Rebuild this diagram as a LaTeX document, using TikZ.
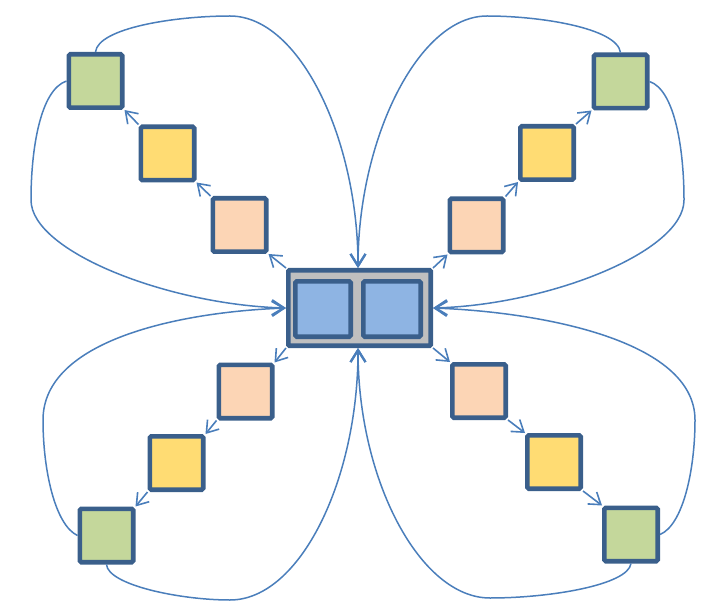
\documentclass[tikz,border=0pt]{standalone}
\usetikzlibrary{arrows.meta}

\definecolor{edgeblue}{HTML}{3A5F8B}
\definecolor{linkblue}{HTML}{4A7EBB}
\definecolor{leaf}{HTML}{C4D79B}
\definecolor{sun}{HTML}{FFDC73}
\definecolor{peach}{HTML}{FCD5B5}
\definecolor{sky}{HTML}{8EB4E3}
\definecolor{frame}{HTML}{BFBFBF}

\tikzset{
  tile/.style={draw=edgeblue, line width=4.6pt, rounded corners=1.5pt,
               minimum size=53.4pt, inner sep=0pt},
  greentile/.style={tile, fill=leaf},
  yellowtile/.style={tile, fill=sun},
  peachtile/.style={tile, fill=peach},
  hub/.style={draw=edgeblue, line width=4.6pt, fill=frame, rounded corners=1pt,
              minimum width=142.4pt, minimum height=75.4pt, inner sep=0pt},
  hubcell/.style={draw=edgeblue, line width=4.6pt, fill=sky, rounded corners=1.5pt,
                  minimum height=55.4pt, inner sep=0pt},
  link/.style={draw=linkblue, line width=1.6pt,
               -{Straight Barb[length=11pt, width=15pt, line width=1.6pt]}},
  loop/.style={draw=linkblue, line width=1.5pt},
  looparrow/.style={loop, -{Straight Barb[length=12pt, width=15pt, line width=2.2pt]}}
}

\begin{document}
\begin{tikzpicture}[x=1pt, y=-1pt]
  \useasboundingbox (0,0) rectangle (727,609);

  % central block with its two cells
  \node[hub] (hub) at (359.5,308) {};
  \node[hubcell, minimum width=55.4pt] (cellL) at (323,309) {};
  \node[hubcell, minimum width=57.4pt] (cellR) at (392,309) {};

  % upper-left chain
  \node[peachtile]  (p1) at (239.5,225) {};
  \node[yellowtile] (y1) at (167.5,153.5) {};
  \node[greentile]  (g1) at (95.5,81) {};

  % upper-right chain
  \node[peachtile]  (p2) at (476.5,225.5) {};
  \node[yellowtile] (y2) at (547,153) {};
  \node[greentile]  (g2) at (620.5,81.5) {};

  % lower-left chain
  \node[peachtile]  (p3) at (245.5,391.5) {};
  \node[yellowtile] (y3) at (176.5,463) {};
  \node[greentile]  (g3) at (106.5,535.5) {};

  % lower-right chain
  \node[peachtile]  (p4) at (479,391) {};
  \node[yellowtile] (y4) at (554,462) {};
  \node[greentile]  (g4) at (631,534.5) {};

  % outward steps along each diagonal
  \draw[link] (hub.north west) -- (p1.south east);
  \draw[link] (p1.north west) -- (y1.south east);
  \draw[link] (y1.north west) -- (g1.south east);

  \draw[link] (hub.north east) -- (p2.south west);
  \draw[link] (p2.north east) -- (y2.south west);
  \draw[link] (y2.north east) -- (g2.south west);

  \draw[link] (hub.south west) -- (p3.north east);
  \draw[link] (p3.south west) -- (y3.north east);
  \draw[link] (y3.south west) -- (g3.north east);

  \draw[link] (hub.south east) -- (p4.north west);
  \draw[link] (p4.south east) -- (y4.north west);
  \draw[link] (y4.south east) -- (g4.north west);

  % return loops into the central block
  \coordinate (hubT) at (358,268);
  \coordinate (hubB) at (358,348);

  \draw[looparrow] (g1.north) .. controls (98,28) and (175,16) .. (230,16)
                   .. controls (300,16) and (358,140) .. (hubT);
  \draw[looparrow] (g2.north) .. controls (617,28) and (540,16) .. (487,16)
                   .. controls (418,16) and (358,140) .. (hubT);

  \draw[looparrow] (g1.west) .. controls (40,90) and (31,150) .. (31,200)
                   .. controls (31,252) and (170,305) .. (hub.west);
  \draw[looparrow] (g3.west) .. controls (55,525) and (43,470) .. (43,420)
                   .. controls (43,340) and (180,312) .. (hub.west);

  \draw[looparrow] (g2.east) .. controls (675,90) and (684,150) .. (684,200)
                   .. controls (684,252) and (548,305) .. (hub.east);
  \draw[looparrow] (g4.east) .. controls (683,525) and (695,470) .. (695,420)
                   .. controls (695,340) and (540,312) .. (hub.east);

  \draw[looparrow] (g3.south) .. controls (108,585) and (180,600) .. (230,600)
                   .. controls (300,600) and (358,480) .. (hubB);
  \draw[looparrow] (g4.south) .. controls (628,585) and (550,598) .. (490,598)
                   .. controls (420,598) and (358,480) .. (hubB);
\end{tikzpicture}
\end{document}
